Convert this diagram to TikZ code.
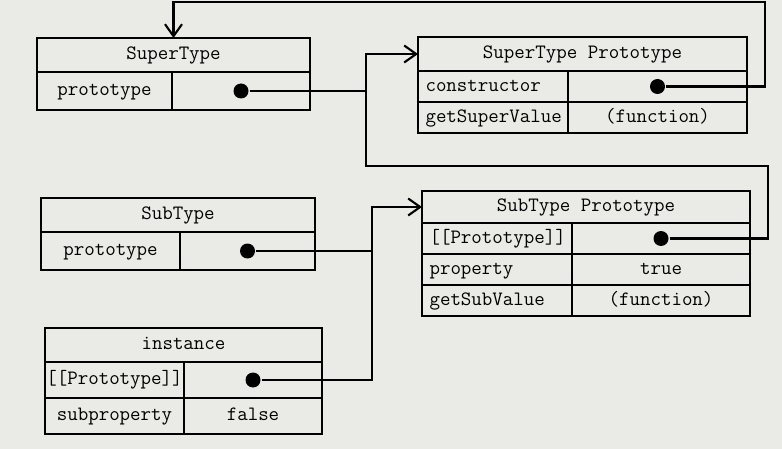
\documentclass[tikz,border=0pt]{standalone}
\usepackage{fontspec}
\usetikzlibrary{positioning,arrows.meta}
\definecolor{paper}{RGB}{234,234,231}

\begin{document}
\begin{tikzpicture}[line width=1.2pt,
	head node/.style={draw, rectangle, inner sep=0pt, outer sep=0pt, minimum height=0.68cm, text height=1.6ex, text depth=0.4ex, font=\ttfamily\fontsize{11.6}{13}\selectfont},
	cell node/.style={draw, rectangle, inner sep=0pt, outer sep=0pt, text height=1.6ex, text depth=0.4ex, font=\ttfamily\fontsize{11.6}{13}\selectfont},
	lkey node/.style={cell node, text width=2.70cm, align=left, inner xsep=0.15cm},
	dot node/.style={circle, fill=black, inner sep=0pt, minimum size=0.30cm},
	arrow/.style={-{Straight Barb[length=2.4mm,width=3.4mm]}}]

	\fill[paper] (0,0) rectangle (15.64,-8.98);
	\useasboundingbox (0,0) rectangle (15.64,-8.98);

	% SuperType
	\node[head node, minimum width=5.46cm, anchor=north west](ST) at (0.74,-0.76){SuperType};
		\node[cell node, minimum width=2.70cm, minimum height=0.76cm](STk)[below right = 0cm of ST.south west]{prototype};
		\node[cell node, minimum width=2.76cm, minimum height=0.76cm](STv)[right = 0cm of STk]{};
			\node[dot node](STd) at (STv){};

	% SuperType Prototype
	\node[head node, minimum width=6.58cm, anchor=north west](SP) at (8.36,-0.74){SuperType Prototype};
		\node[lkey node, minimum height=0.62cm](SPk1)[below right = 0cm of SP.south west]{constructor};
		\node[cell node, minimum width=3.58cm, minimum height=0.62cm](SPv1)[right = 0cm of SPk1]{};
			\node[dot node](SPd) at (SPv1){};
		\node[lkey node, minimum height=0.62cm](SPk2)[below = 0cm of SPk1]{getSuperValue};
		\node[cell node, minimum width=3.58cm, minimum height=0.62cm](SPv2)[right = 0cm of SPk2]{(function)};

	% SubType
	\node[head node, minimum width=5.48cm, anchor=north west](SU) at (0.82,-3.96){SubType};
		\node[cell node, minimum width=2.78cm, minimum height=0.76cm](SUk)[below right = 0cm of SU.south west]{prototype};
		\node[cell node, minimum width=2.70cm, minimum height=0.76cm](SUv)[right = 0cm of SUk]{};
			\node[dot node](SUd) at (SUv){};

	% SubType Prototype
	\node[head node, minimum width=6.56cm, minimum height=0.64cm, anchor=north west](SB) at (8.44,-3.82){SubType Prototype};
		\node[lkey node, minimum height=0.62cm](SBk1)[below right = 0cm of SB.south west]{[[Prototype]]};
		\node[cell node, minimum width=3.56cm, minimum height=0.62cm](SBv1)[right = 0cm of SBk1]{};
			\node[dot node](SBd) at (SBv1){};
		\node[lkey node, minimum height=0.62cm](SBk2)[below = 0cm of SBk1]{property};
		\node[cell node, minimum width=3.56cm, minimum height=0.62cm](SBv2)[right = 0cm of SBk2]{true};
		\node[lkey node, minimum height=0.62cm](SBk3)[below = 0cm of SBk2]{getSubValue};
		\node[cell node, minimum width=3.56cm, minimum height=0.62cm](SBv3)[right = 0cm of SBk3]{(function)};

	% instance
	\node[head node, minimum width=5.54cm, anchor=north west](IN) at (0.90,-6.56){instance};
		\node[cell node, minimum width=2.78cm, minimum height=0.72cm](INk1)[below right = 0cm of IN.south west]{[[Prototype]]};
		\node[cell node, minimum width=2.76cm, minimum height=0.72cm](INv1)[right = 0cm of INk1]{};
			\node[dot node](INd) at (INv1){};
		\node[cell node, minimum width=2.78cm, minimum height=0.72cm](INk2)[below = 0cm of INk1]{subproperty};
		\node[cell node, minimum width=2.76cm, minimum height=0.72cm](INv2)[right = 0cm of INk2]{false};

	\coordinate (topR) at (15.30,-0.04);
	\coordinate (loopR) at (15.36,-3.32);
	\coordinate (loopL) at (7.32,-3.32);
	\coordinate (bendS) at (7.44,-4.20);

	\draw[arrow] (SPd) -| (topR) -| (ST.north);
	\draw[arrow] (SBd) -| (loopR) -- (loopL) |- (SP.west);
	\draw (STd) -- (STd -| loopL);
	\draw[arrow] (INd) -| (bendS |- SB.west) -- (SB.west);
	\draw (SUd) -- (SUd -| bendS);
\end{tikzpicture}
\end{document}
